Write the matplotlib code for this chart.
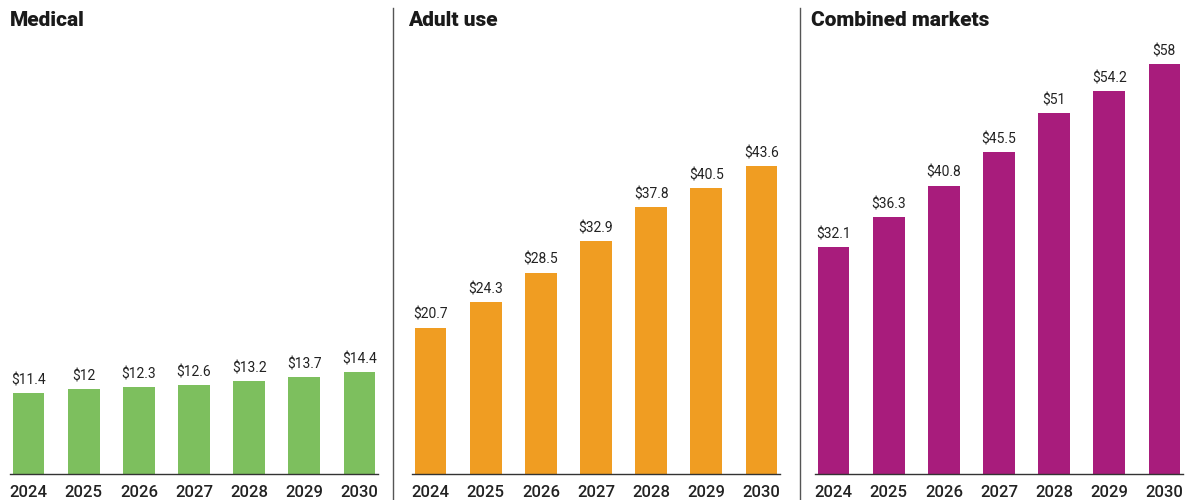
import matplotlib
matplotlib.use('Agg')
import matplotlib.pyplot as plt
from matplotlib.lines import Line2D

plt.rcParams['font.family'] = ['Roboto', 'DejaVu Sans']

years = ['2024', '2025', '2026', '2027', '2028', '2029', '2030']
medical = [11.4, 12, 12.3, 12.6, 13.2, 13.7, 14.4]
adult_use = [20.7, 24.3, 28.5, 32.9, 37.8, 40.5, 43.6]
combined = [32.1, 36.3, 40.8, 45.5, 51, 54.2, 58]
titles = ['Medical', 'Adult use', 'Combined markets']
colors = ['#7dbf5e', '#f09d22', '#a81c7c']

fig = plt.figure(figsize=(11.88, 5), dpi=100)

# axes placement in figure fractions (left, width)
lefts = [10 / 1188, 412 / 1188, 815 / 1188]
width = 368 / 1188
bottom = 26 / 500
height = 62 * 7.07 / 500

for i, (vals, title, col) in enumerate(zip([medical, adult_use, combined], titles, colors)):
    ax = fig.add_axes([lefts[i], bottom, width, height])
    x = range(len(years))
    ax.bar(x, vals, width=0.57, color=col, zorder=2)
    for xi, v in zip(x, vals):
        ax.text(xi, v + 0.8, '${:g}'.format(v), ha='center', va='bottom',
                fontsize=10, color='#222222')
    ax.set_xlim(-0.34, 6.34)
    ax.set_ylim(0, 62)
    ax.set_xticks(list(x))
    ax.set_xticklabels(years, fontsize=12, fontweight='medium', color='#222222')
    ax.tick_params(axis='x', length=0, pad=8)
    ax.set_yticks([])
    for s in ['top', 'right', 'left']:
        ax.spines[s].set_visible(False)
    ax.spines['bottom'].set_color('#333333')
    ax.spines['bottom'].set_linewidth(1.0)
    fig.text(lefts[i] + (0 if i == 0 else -4 / 1188), 1 - 20 / 500, title,
             fontsize=15, fontweight='heavy', color='#1a1a1a', va='center', ha='left')

# separators between panels
for xp in [393, 800]:
    fig.add_artist(Line2D([xp / 1188, xp / 1188], [0, 1 - 8 / 500], color='#555555', lw=1.0))

fig.savefig('out.png', dpi=100)
